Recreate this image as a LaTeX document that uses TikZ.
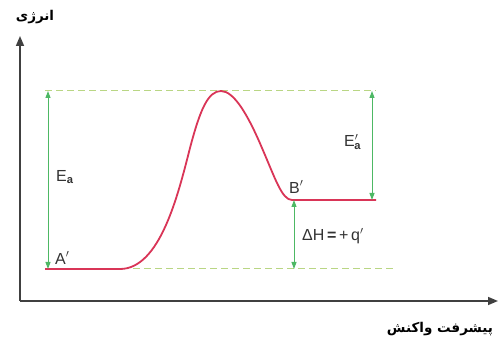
\documentclass[tikz,border=0pt]{standalone}
\usepackage{fontspec}
\setmainfont{Liberation Sans}
\newfontfamily\arabicfont[Script=Arabic]{DejaVu Sans}
\TeXXeTstate=1
\usetikzlibrary{arrows.meta}
\definecolor{gline}{HTML}{4DB864}
\definecolor{dline}{HTML}{B9D684}
\definecolor{curvec}{HTML}{D93557}
\begin{document}
\begin{tikzpicture}[x=1pt,y=-1pt,
  axis/.style={line width=1.6pt,draw=black!75,-{Triangle[length=10pt,width=8pt]}},
  guide/.style={dline,line width=1pt,dash pattern=on 7pt off 4pt},
  meas/.style={gline,line width=1pt,{Triangle[length=7pt,width=5pt]}-{Triangle[length=7pt,width=5pt]}},
  lbl/.style={font=\fontsize{16}{16}\selectfont,text=black!80,inner sep=0pt},
  fa/.style={font=\arabicfont\bfseries\fontsize{13.5}{13.5}\selectfont,inner sep=0pt}]
\useasboundingbox (0,0) rectangle (499,347);
% axes
\coordinate (O) at (20,301);
\coordinate (Ytop) at (20,36);
\coordinate (Xend) at (498,301);
\draw[axis] (O) -- (Ytop);
\draw[axis] (O) -- (Xend);
\node[fa] (ylab) at (35,17) {\beginR انرژی\endR};
\node[fa] (xlab) at (440,329) {\beginR پیشرفت واکنش\endR};
% guide lines
\coordinate (TL) at (45,91);
\coordinate (TR) at (376,91);
\coordinate (BL) at (45,269);
\coordinate (BR) at (396,269);
\draw[guide] (TL) -- (TR);
\draw[guide] (BL) -- (BR);
% curve
\coordinate (A) at (45,269);
\coordinate (P) at (221,91);
\coordinate (Bs) at (292,200);
\coordinate (Be) at (376,200);
\draw[curvec,line width=1.8pt]
  (A) -- (120,269) .. controls (160,269) and (178,195) .. (190,148)
  .. controls (200,110) and (208,91) .. (P)
  .. controls (234,91) and (248,115) .. (262,148)
  .. controls (275,178) and (282,200) .. (Bs) -- (Be);
% measurement arrows
\coordinate (ea1) at (48,91);
\coordinate (ea2) at (48,269);
\draw[meas] (ea1) -- (ea2);
\coordinate (eb1) at (372,91);
\coordinate (eb2) at (372,200);
\draw[meas] (eb1) -- (eb2);
\coordinate (dh1) at (294,200);
\coordinate (dh2) at (294,269);
\draw[meas] (dh1) -- (dh2);
% labels
\node[lbl,anchor=west] (Ea) at (56,177) {E\textsubscript{\bfseries a}};
\node[lbl,anchor=west] (Ap) at (55,258) {A$'$};
\node[lbl,anchor=west] (Eap) at (344,142) {E$'$\kern-4pt\textsubscript{\bfseries a}};
\node[lbl,anchor=west] (Bp) at (289,187) {B$'$};
\node[lbl,anchor=west] (dH) at (302,236) {ΔH\,\textbf{=}\,+\,q$'$};
\end{tikzpicture}
\end{document}
